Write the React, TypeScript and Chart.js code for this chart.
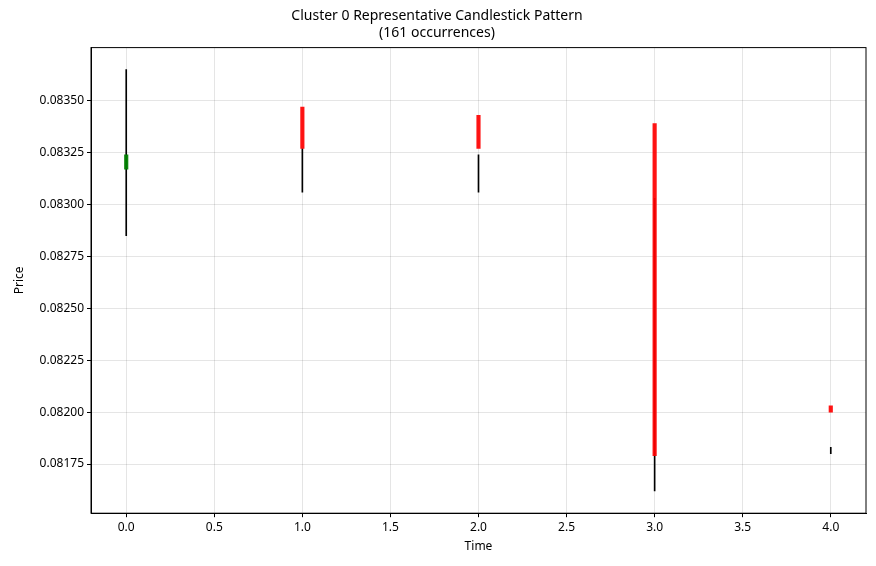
import React, { useEffect, useRef } from "react";
import { Chart, registerables } from "chart.js";

Chart.register(...registerables);

const times = [0, 1, 2, 3, 4];
const opens = [0.08317, 0.08347, 0.08343, 0.08339, 0.08203];
const closes = [0.08324, 0.08327, 0.08327, 0.08179, 0.082];
const wickHighs = [0.08365, 0.08327, 0.08324, 0.08303, 0.08183];
const wickLows = [0.08285, 0.08306, 0.08306, 0.08162, 0.0818];
const xTicks = [0, 0.5, 1, 1.5, 2, 2.5, 3, 3.5, 4];
const yTicks = [0.08175, 0.082, 0.08225, 0.0825, 0.08275, 0.083, 0.08325, 0.0835];

const FONT = "'Noto Sans', 'DejaVu Sans', sans-serif";

// full frame around the plot area, like matplotlib
const frame = {
	id: "frame",
	afterDraw(chart: any) {
		const { ctx, chartArea: a } = chart;
		ctx.save();
		ctx.strokeStyle = "#000";
		ctx.lineWidth = 1;
		ctx.strokeRect(a.left, a.top, a.right - a.left, a.bottom - a.top);
		ctx.restore();
	},
};

const App: React.FC = () => {
	const chartRef = useRef<HTMLCanvasElement>(null);

	useEffect(() => {
		if (!chartRef.current) return;
		Chart.defaults.font.family = FONT;
		Chart.defaults.color = "#000";
		const myChart = new Chart(chartRef.current, {
			type: "bar",
			data: {
				datasets: [
					{
						label: "body",
						data: times.map((t, i) => ({ x: t, y: [opens[i], closes[i]] })) as any,
						backgroundColor: times.map((_, i) => (closes[i] >= opens[i] ? "rgba(0,128,0,0.95)" : "rgba(255,0,0,0.92)")),
						barThickness: 3.5,
						order: 1,
						grouped: false,
					},
					{
						label: "wick",
						data: times.map((t, i) => ({ x: t, y: [wickLows[i], wickHighs[i]] })) as any,
						backgroundColor: "#000",
						barThickness: 1,
						order: 2,
						grouped: false,
					},
				],
			},
			options: {
				animation: false,
				responsive: true,
				maintainAspectRatio: false,
				layout: { padding: { right: 2, top: 0 } },
				plugins: {
					legend: { display: false },
					tooltip: { enabled: false },
					title: {
						display: true,
						text: ["Cluster 0 Representative Candlestick Pattern", "(161 occurrences)"],
						font: { size: 14, weight: "normal" },
						padding: { top: 0, bottom: 6 },
						color: "#000",
					},
				},
				scales: {
					x: {
						type: "linear",
						offset: false,
						min: -0.2,
						max: 4.2,
						afterBuildTicks: (axis: any) => {
							axis.ticks = xTicks.map((v) => ({ value: v }));
						},
						ticks: { callback: (v: any) => Number(v).toFixed(1), font: { size: 12 }, maxRotation: 0 },
						grid: { offset: false, color: "rgba(0,0,0,0.1)", tickColor: "#000", tickLength: 4 },
						border: { color: "#000" },
						title: { display: true, text: "Time", font: { size: 12 }, padding: { top: 2 } },
					},
					y: {
						min: 0.081513,
						max: 0.083756,
						afterBuildTicks: (axis: any) => {
							axis.ticks = yTicks.map((v) => ({ value: v }));
						},
						afterFit: (s: any) => {
							s.width = 83;
						},
						ticks: { callback: (v: any) => Number(v).toFixed(5), font: { size: 12 } },
						grid: { color: "rgba(0,0,0,0.1)", tickColor: "#000", tickLength: 4 },
						border: { color: "#000" },
						title: { display: true, text: "Price", font: { size: 12 } },
					},
				},
			},
			plugins: [frame],
		});
		return () => {
			myChart.destroy();
		};
	}, []);

	return (
		<div style={{ height: 550 }}>
			<canvas ref={chartRef} />
		</div>
	);
};

export default App;
